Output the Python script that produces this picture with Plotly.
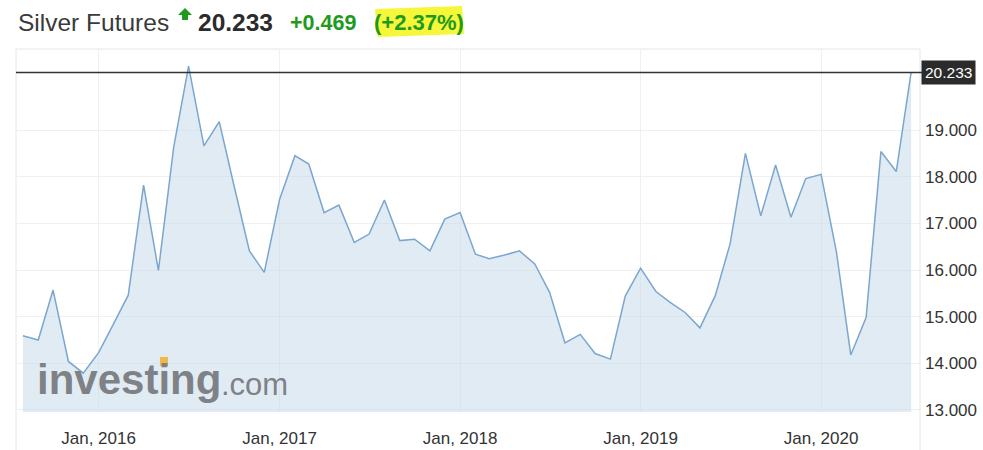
import pandas as pd
import plotly.graph_objects as go

# ---- data ----
months = pd.date_range("2015-08-01", periods=60, freq="MS")
prices = [
    14.59, 14.50, 15.57, 14.04, 13.79,
    14.23, 14.86, 15.46, 17.82, 15.99, 18.64, 20.37, 18.66, 19.18, 17.80, 16.41, 15.95,
    17.51, 18.45, 18.27, 17.23, 17.39, 16.59, 16.77, 17.50, 16.63, 16.66, 16.41, 17.09,
    17.23, 16.34, 16.24, 16.32, 16.41, 16.13, 15.52, 14.44, 14.62, 14.21, 14.09, 15.44,
    16.04, 15.54, 15.31, 15.09, 14.76, 15.45, 16.56, 18.50, 17.16, 18.25, 17.13, 17.96,
    18.05, 16.39, 14.18, 14.98, 18.54, 18.11, 20.233,
]
y_ticks = [13, 14, 15, 16, 17, 18, 19]
last_price = 20.233
title_name = "Silver Futures"
title_price = "20.233"
title_change = "+0.469"
title_pct = "(+2.37%)"

# ---- geometry ----
W, H = 983, 450
L, T = 16, 49
PW, PH = 904, 363
R, B = W - L - PW, H - T - PH


def px(x):
    return (x - L) / PW


def py(y):
    return (T + PH - y) / PH


FONT = "Arial, Liberation Sans, sans-serif"
GREEN = "#1e9a1e"

fig = go.Figure()
fig.add_trace(go.Scatter(
    x=months, y=prices, mode="lines",
    line=dict(color="#7ba6cf", width=1.5),
    fill="tozeroy", fillcolor="rgba(196,216,232,0.5)",
    hoverinfo="skip", showlegend=False,
))

fig.update_layout(
    width=W, height=H, autosize=False,
    margin=dict(l=L, r=R, t=T, b=B, pad=0, autoexpand=False),
    paper_bgcolor="white", plot_bgcolor="white",
    font=dict(family=FONT, color="#333333", size=14),
    xaxis=dict(
        type="date", automargin=False,
        range=["2015-07-18", "2020-07-19"],
        tick0="2016-01-01", dtick="M12", tickformat="%b, %Y",
        showgrid=True, gridcolor="#f0f0f0", gridwidth=1,
        zeroline=False, showline=False,
        ticks="", ticklabelstandoff=14,
        tickfont=dict(size=17, color="#333333"),
    ),
    yaxis=dict(
        automargin=False,
        range=[12.957, 20.736], side="right",
        tickvals=y_ticks, tickformat=".3f",
        showgrid=True, gridcolor="#f0f0f0", gridwidth=1,
        zeroline=False, showline=False,
        ticks="", ticklabelstandoff=4,
        tickfont=dict(size=17, color="#333333"),
    ),
)

shapes = [
    # frame box
    dict(type="rect", xref="paper", yref="paper", x0=0, x1=1, y0=py(470), y1=1,
         line=dict(color="#e6e6e6", width=1), fillcolor="rgba(0,0,0,0)", layer="below"),
    # current price line
    dict(type="line", xref="paper", yref="y", x0=0, x1=px(922), y0=last_price, y1=last_price,
         line=dict(color="#333333", width=1.5)),
    # yellow highlight
    dict(type="path", xref="paper", yref="paper",
         path=(f"M {px(375)},{py(9)} L {px(462)},{py(6)} L {px(464)},{py(34)} "
               f"L {px(378)},{py(37)} Z"),
         fillcolor="#f6f63a", line=dict(width=0), layer="below"),
    # green up arrow
    dict(type="path", xref="paper", yref="paper",
         path=(f"M {px(185)},{py(8)} L {px(192)},{py(15)} L {px(188)},{py(15)} "
               f"L {px(188)},{py(20)} L {px(182)},{py(20)} L {px(182)},{py(15)} "
               f"L {px(178)},{py(15)} Z"),
         fillcolor=GREEN, line=dict(width=0)),
    # orange dot on the logo's second "i"
    dict(type="rect", xref="paper", yref="paper",
         x0=px(160), x1=px(168), y0=py(366), y1=py(357),
         fillcolor="#f0b945", line=dict(width=0)),
]
fig.update_layout(shapes=shapes)

ann = [
    dict(text=title_name, x=px(16), y=py(23), xanchor="left", yanchor="middle",
         font=dict(size=24.5, color="#3a3a3a")),
    dict(text=f"<b>{title_price}</b>", x=px(196), y=py(23), xanchor="left", yanchor="middle",
         font=dict(size=24.5, color="#2b2b2b")),
    dict(text=f"<b>{title_change}</b>", x=px(288), y=py(23), xanchor="left", yanchor="middle",
         font=dict(size=21.5, color=GREEN)),
    dict(text=f"<b>{title_pct}</b>", x=px(372), y=py(23), xanchor="left", yanchor="middle",
         font=dict(size=22, color=GREEN)),
    # logo
    dict(text="<b>investing</b>", x=px(35), y=py(379), xanchor="left", yanchor="middle",
         font=dict(size=42, color="#7e8287")),
    dict(text=".com", x=px(219), y=py(384), xanchor="left", yanchor="middle",
         font=dict(size=31, color="#7e8287")),
]
for a in ann:
    a.update(xref="paper", yref="paper", showarrow=False)

# price label on the right
ann.append(dict(text=title_price, xref="paper", yref="y", x=1, y=last_price,
                xanchor="left", yanchor="middle", xshift=1, showarrow=False,
                bgcolor="#2b2b2b", borderpad=3, font=dict(size=15.5, color="white")))
fig.update_layout(annotations=ann)

fig.write_html(
    "out.html",
    config={"displayModeBar": False},
    post_script="document.body.style.margin='0';document.body.style.overflow='hidden';",
)
